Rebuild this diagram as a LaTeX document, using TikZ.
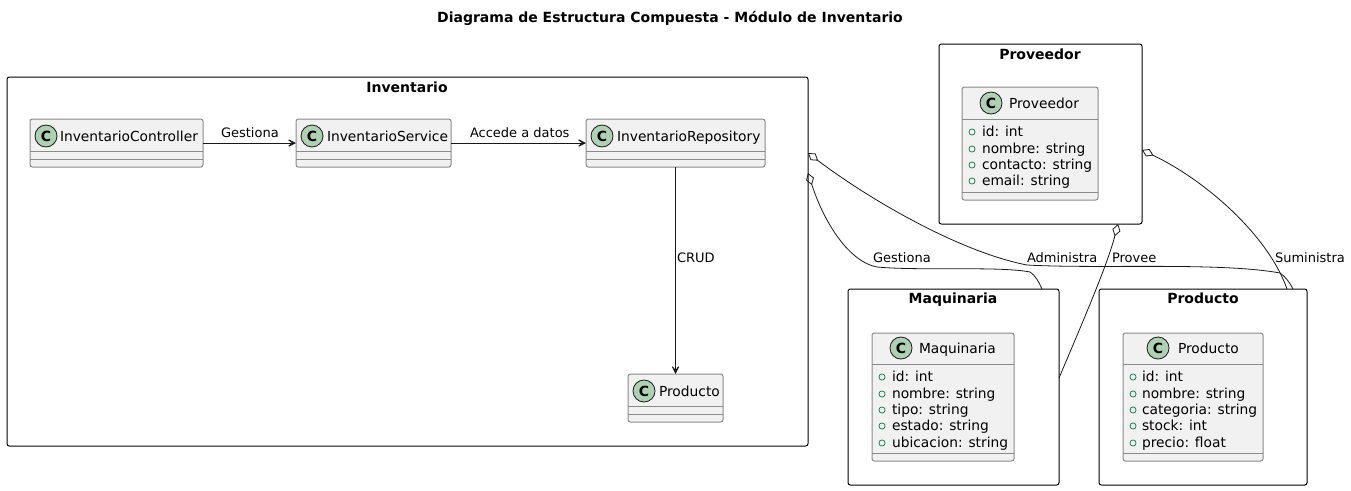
\documentclass[tikz,border=0pt]{standalone}
\usepackage{fontspec}
\setmainfont{DejaVu Sans}
\usetikzlibrary{arrows.meta}
\definecolor{umlBorder}{HTML}{181818}
\definecolor{umlGrey}{HTML}{8A8A8A}
\definecolor{umlClassBg}{HTML}{F1F1F1}
\definecolor{umlIconBg}{HTML}{ADD1B2}
\definecolor{umlMember}{HTML}{038048}

\begin{document}
\begin{tikzpicture}[
    x=0.75pt,y=-0.75pt,>=Latex,
    every node/.style={font=\fontsize{10.35}{12}\selectfont,inner sep=0pt,outer sep=0pt},
    boxw/.style={minimum width=#1*0.75pt},
    boxh/.style={minimum height=#1*0.75pt},
    package/.style={draw=black,line width=0.75pt,rounded corners=1.8pt,anchor=north west},
    pkgtitle/.style={anchor=base,font=\fontsize{10.5}{12}\selectfont\bfseries},
    classbox/.style={draw=umlGrey,fill=umlClassBg,line width=0.75pt,rounded corners=1.8pt,anchor=north west},
    classname/.style={anchor=base west},
    classicon/.style={circle,draw=umlBorder,fill=umlIconBg,line width=0.6pt,minimum size=16.5pt,font=\fontsize{10.5}{12}\selectfont\bfseries},
    sepline/.style={draw=umlGrey,line width=0.75pt},
    memberdot/.style={circle,draw=umlMember,line width=0.55pt,minimum size=4.6pt},
    member/.style={anchor=base west},
    edgelabel/.style={anchor=base west,font=\fontsize{9.75}{12}\selectfont},
    flow/.style={-{Stealth[length=9pt,width=9pt,inset=6pt]},draw=umlBorder,line width=0.75pt},
    aggr/.style={{Diamond[open,length=9.5pt,width=6.2pt]}-,draw=umlBorder,line width=0.6pt}
]
\useasboundingbox (0,0) rectangle (1351,490);

\node[anchor=base,font=\fontsize{10.5}{12}\selectfont\bfseries] (title) at (670,22) {Diagrama de Estructura Compuesta - Módulo de Inventario};

% packages
\node[package,boxw=801,boxh=369] (inventario) at (7,77) {};
\node[pkgtitle] (inventarioTitle) at (407,92) {Inventario};
\node[package,boxw=203,boxh=180] (proveedor) at (939,44) {};
\node[pkgtitle] (proveedorTitle) at (1040,59) {Proveedor};
\node[package,boxw=211,boxh=196] (maquinaria) at (848,289) {};
\node[pkgtitle] (maquinariaTitle) at (953,303) {Maquinaria};
\node[package,boxw=208,boxh=196] (producto) at (1099,289) {};
\node[pkgtitle] (productoTitle) at (1203,303) {Producto};

% classes of Inventario
\node[classbox,boxw=173,boxh=48] (controller) at (30,119) {};
\node[classicon] (controllerIcon) at (46,136) {C};
\node[classname] (controllerName) at (60,141) {InventarioController};
\draw[sepline] (controller.west |- 0,151) -- (controller.east |- 0,151);
\draw[sepline] (controller.west |- 0,159) -- (controller.east |- 0,159);

\node[classbox,boxw=155,boxh=48] (service) at (296,119) {};
\node[classicon] (serviceIcon) at (312,136) {C};
\node[classname] (serviceName) at (327,141) {InventarioService};
\draw[sepline] (service.west |- 0,151) -- (service.east |- 0,151);
\draw[sepline] (service.west |- 0,159) -- (service.east |- 0,159);

\node[classbox,boxw=179,boxh=48] (repository) at (586,119) {};
\node[classicon] (repositoryIcon) at (602,136) {C};
\node[classname] (repositoryName) at (617,141) {InventarioRepository};
\draw[sepline] (repository.west |- 0,151) -- (repository.east |- 0,151);
\draw[sepline] (repository.west |- 0,159) -- (repository.east |- 0,159);

\node[classbox,boxw=95,boxh=48] (item) at (628,374) {};
\node[classicon] (itemIcon) at (644,391) {C};
\node[classname] (itemName) at (659,396) {Producto};
\draw[sepline] (item.west |- 0,406) -- (item.east |- 0,406);
\draw[sepline] (item.west |- 0,414) -- (item.east |- 0,414);

% class Proveedor
\node[classbox,boxw=136,boxh=113] (proveedorClass) at (962,87) {};
\node[classicon] (proveedorIcon) at (991,103) {C};
\node[classname] (proveedorName) at (1009,108) {Proveedor};
\draw[sepline] (proveedorClass.west |- 0,119) -- (proveedorClass.east |- 0,119);
\draw[sepline] (proveedorClass.west |- 0,192) -- (proveedorClass.east |- 0,192);
\foreach \y/\txt [count=\i] in {136/id: int,153/nombre: string,169/contacto: string,185/email: string}{
    \node[memberdot] (proveedorDot\i) at (972,\y-4) {};
    \node[member] (proveedorRow\i) at (982,\y) {\txt};
}

% class Maquinaria
\node[classbox,boxw=142,boxh=128] (maquinariaClass) at (872,333) {};
\node[classicon] (maquinariaIcon) at (901,348) {C};
\node[classname] (maquinariaName) at (919,353) {Maquinaria};
\draw[sepline] (maquinariaClass.west |- 0,364) -- (maquinariaClass.east |- 0,364);
\draw[sepline] (maquinariaClass.west |- 0,453) -- (maquinariaClass.east |- 0,453);
\foreach \y/\txt [count=\i] in {381/id: int,398/nombre: string,414/tipo: string,430/estado: string,447/ubicacion: string}{
    \node[memberdot] (maquinariaDot\i) at (882,\y-4) {};
    \node[member] (maquinariaRow\i) at (892,\y) {\txt};
}

% class Producto
\node[classbox,boxw=140,boxh=128] (productoClass) at (1123,333) {};
\node[classicon] (productoIcon) at (1158,348) {C};
\node[classname] (productoName) at (1178,353) {Producto};
\draw[sepline] (productoClass.west |- 0,364) -- (productoClass.east |- 0,364);
\draw[sepline] (productoClass.west |- 0,453) -- (productoClass.east |- 0,453);
\foreach \y/\txt [count=\i] in {381/id: int,398/nombre: string,414/categoria: string,430/stock: int,447/precio: float}{
    \node[memberdot] (productoDot\i) at (1133,\y-4) {};
    \node[member] (productoRow\i) at (1142,\y) {\txt};
}

% inner flows
\draw[flow] (controller.east |- 0,143) -- (service.west |- 0,143);
\draw[flow] (service.east |- 0,143) -- (repository.west |- 0,143);
\draw[flow] (repository.south -| item.north) -- (item.north);
\node[edgelabel] (gestionaTop) at (221,137) {Gestiona};
\node[edgelabel] (accede) at (470,137) {Accede a datos};
\node[edgelabel] (crud) at (677,262) {CRUD};

% aggregations
\coordinate (gestInv) at (808,173);
\coordinate (gestMaq) at (1042,289);
\coordinate (admInv) at (808,153);
\coordinate (admProd) at (1293,289);
\coordinate (sumProv) at (1142,150);
\coordinate (sumProd) at (1287,289);
\coordinate (provBottom) at (1118,224);
\coordinate (provMaq) at (1059,378);
\draw[aggr] (gestInv) .. controls (825,225) and (850,262) .. (877,267) .. controls (920,271) and (1000,266) .. (1030,272) .. controls (1035,275) and (1039,282) .. (gestMaq);
\draw[aggr] (admInv) .. controls (870,200) and (960,252) .. (1027,265) .. controls (1100,269) and (1220,262) .. (1280,273) .. controls (1285,276) and (1290,283) .. (admProd);
\draw[aggr] (sumProv) .. controls (1205,180) and (1268,235) .. (sumProd);
\draw[aggr] (provBottom) .. controls (1108,262) and (1090,305) .. (provMaq);
\node[edgelabel] (gestiona) at (873,262) {Gestiona};
\node[edgelabel] (administra) at (1027,262) {Administra};
\node[edgelabel] (provee) at (1112,262) {Provee};
\node[edgelabel] (suministra) at (1275,262) {Suministra};
\end{tikzpicture}
\end{document}
